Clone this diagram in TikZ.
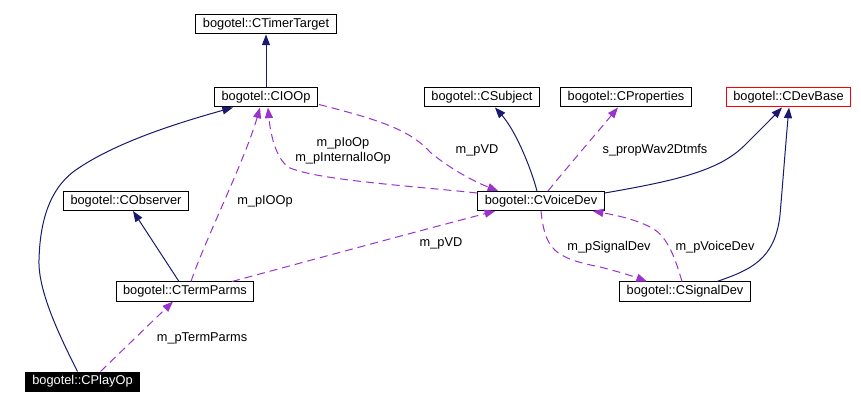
\documentclass[tikz,border=0pt]{standalone}
\usepackage{fontspec}
\setmainfont{Liberation Sans}
\usetikzlibrary{arrows.meta,calc}
\definecolor{navyc}{HTML}{191970}
\definecolor{purc}{HTML}{9A32CD}
\tikzset{
  cls/.style={draw=black, line width=0.75pt, inner xsep=5.25pt, inner ysep=0pt, minimum height=14.25pt, font=\fontsize{9.6pt}{11pt}\selectfont},
  inh/.style={draw=navyc, line width=0.75pt, -{Triangle[length=8pt,width=6pt]}},
  usage/.style={draw=purc, line width=0.75pt, dash pattern=on 6pt off 3.75pt, -{Triangle[length=8pt,width=6pt,fill=purc]}},
  lbl/.style={font=\fontsize{9.6pt}{11pt}\selectfont, inner sep=0pt}
}
\begin{document}
\begin{tikzpicture}[x=0.75pt,y=-0.75pt]
\useasboundingbox[fill=white] (0,0) rectangle (861,406);
\node[cls] (TT) at (266,24.5) {bogotel::CTimerTarget};
\node[cls] (IO) at (266,97.5) {bogotel::CIOOp};
\node[cls] (SU) at (482,97.5) {bogotel::CSubject};
\node[cls] (PR) at (626,97.5) {bogotel::CProperties};
\node[cls, draw=red] (DB) at (788.5,97.5) {bogotel::CDevBase};
\node[cls] (VD) at (541,201) {bogotel::CVoiceDev};
\node[cls] (OB) at (126,201) {bogotel::CObserver};
\node[cls] (TP) at (185,291.5) {bogotel::CTermParms};
\node[cls] (SD) at (685,291.5) {bogotel::CSignalDev};
\node[cls, fill=black, text=white] (PO) at (82.5,381.5) {bogotel::CPlayOp};

% inheritance
\draw[inh] (IO.north) -- (TT.south);
\draw[inh] ($(PO.north)+(-5,0)$) .. controls (58,333) and (38,290) .. (39,260)
  .. controls (40,220) and (50,190) .. (73,172)
  .. controls (110,145) and (170,125) .. ($(IO.south)+(-33,0)$);
\draw[inh] ($(TP.north)+(-6,0)$) -- ($(OB.south)+(7,0)$);
\draw[inh] ($(VD.north)+(-4,0)$) .. controls (530,165) and (515,130) .. ($(SU.south)+(13,0)$);
\draw[inh] ($(VD.east)+(0,-8)$) .. controls (680,180) and (720,170) .. (745,145)
  .. controls (760,130) and (772,118) .. ($(DB.south)+(-6.5,0)$);
\draw[inh] ($(SD.north)+(32,0)$) .. controls (750,270) and (775,260) .. (780,215)
  .. controls (783,180) and (786,140) .. ($(DB.south)+(0.5,0)$);

% usage
\draw[usage] ($(TP.north)+(6,0)$) .. controls (205,240) and (245,160) .. ($(IO.south)+(-6,0)$);
\node[lbl] (l1) at (265,201) {m\_pIOOp};

\draw[usage] ($(VD.north west)+(0,2)$) .. controls (400,185) and (320,180) .. (290,168)
  .. controls (275,160) and (270,130) .. ($(IO.south)+(2,0)$);
\node[lbl] (l2) at (343,143) {m\_pIoOp};
\node[lbl] (l3) at (343,158) {m\_pInternalIoOp};

\draw[usage] ($(IO.east)+(1,7)$) .. controls (380,120) and (410,130) .. (430,152)
  .. controls (445,165) and (470,180) .. ($(VD.north west)+(21,0)$);
\node[lbl] (l4) at (477,150) {m\_pVD};

\draw[usage] ($(VD.north)+(7,0)$) .. controls (565,170) and (595,135) .. ($(PR.south)+(-8,0)$);
\node[lbl] (l5) at (655,150) {s\_propWav2Dtmfs};

\draw[usage] ($(TP.north)+(47,0)$) .. controls (330,255) and (430,228) .. ($(VD.south west)+(18,0)$);
\node[lbl] (l6) at (441,243) {m\_pVD};

\draw[usage] (VD.south) .. controls (545,250) and (555,258) .. (600,267)
  .. controls (620,272) and (635,277) .. ($(SD.north)+(-38,0)$);
\node[lbl] (l7) at (609,247) {m\_pSignalDev};

\draw[usage] ($(SD.north)+(-3,0)$) .. controls (677,265) and (670,240) .. (655,230)
  .. controls (640,220) and (615,215) .. ($(VD.south east)+(-12,0)$);
\node[lbl] (l8) at (715,247) {m\_pVoiceDev};

\draw[usage] ($(PO.north)+(18,0)$) -- ($(TP.south)+(-12,0)$);
\node[lbl] (l9) at (202,338) {m\_pTermParms};
\end{tikzpicture}
\end{document}
